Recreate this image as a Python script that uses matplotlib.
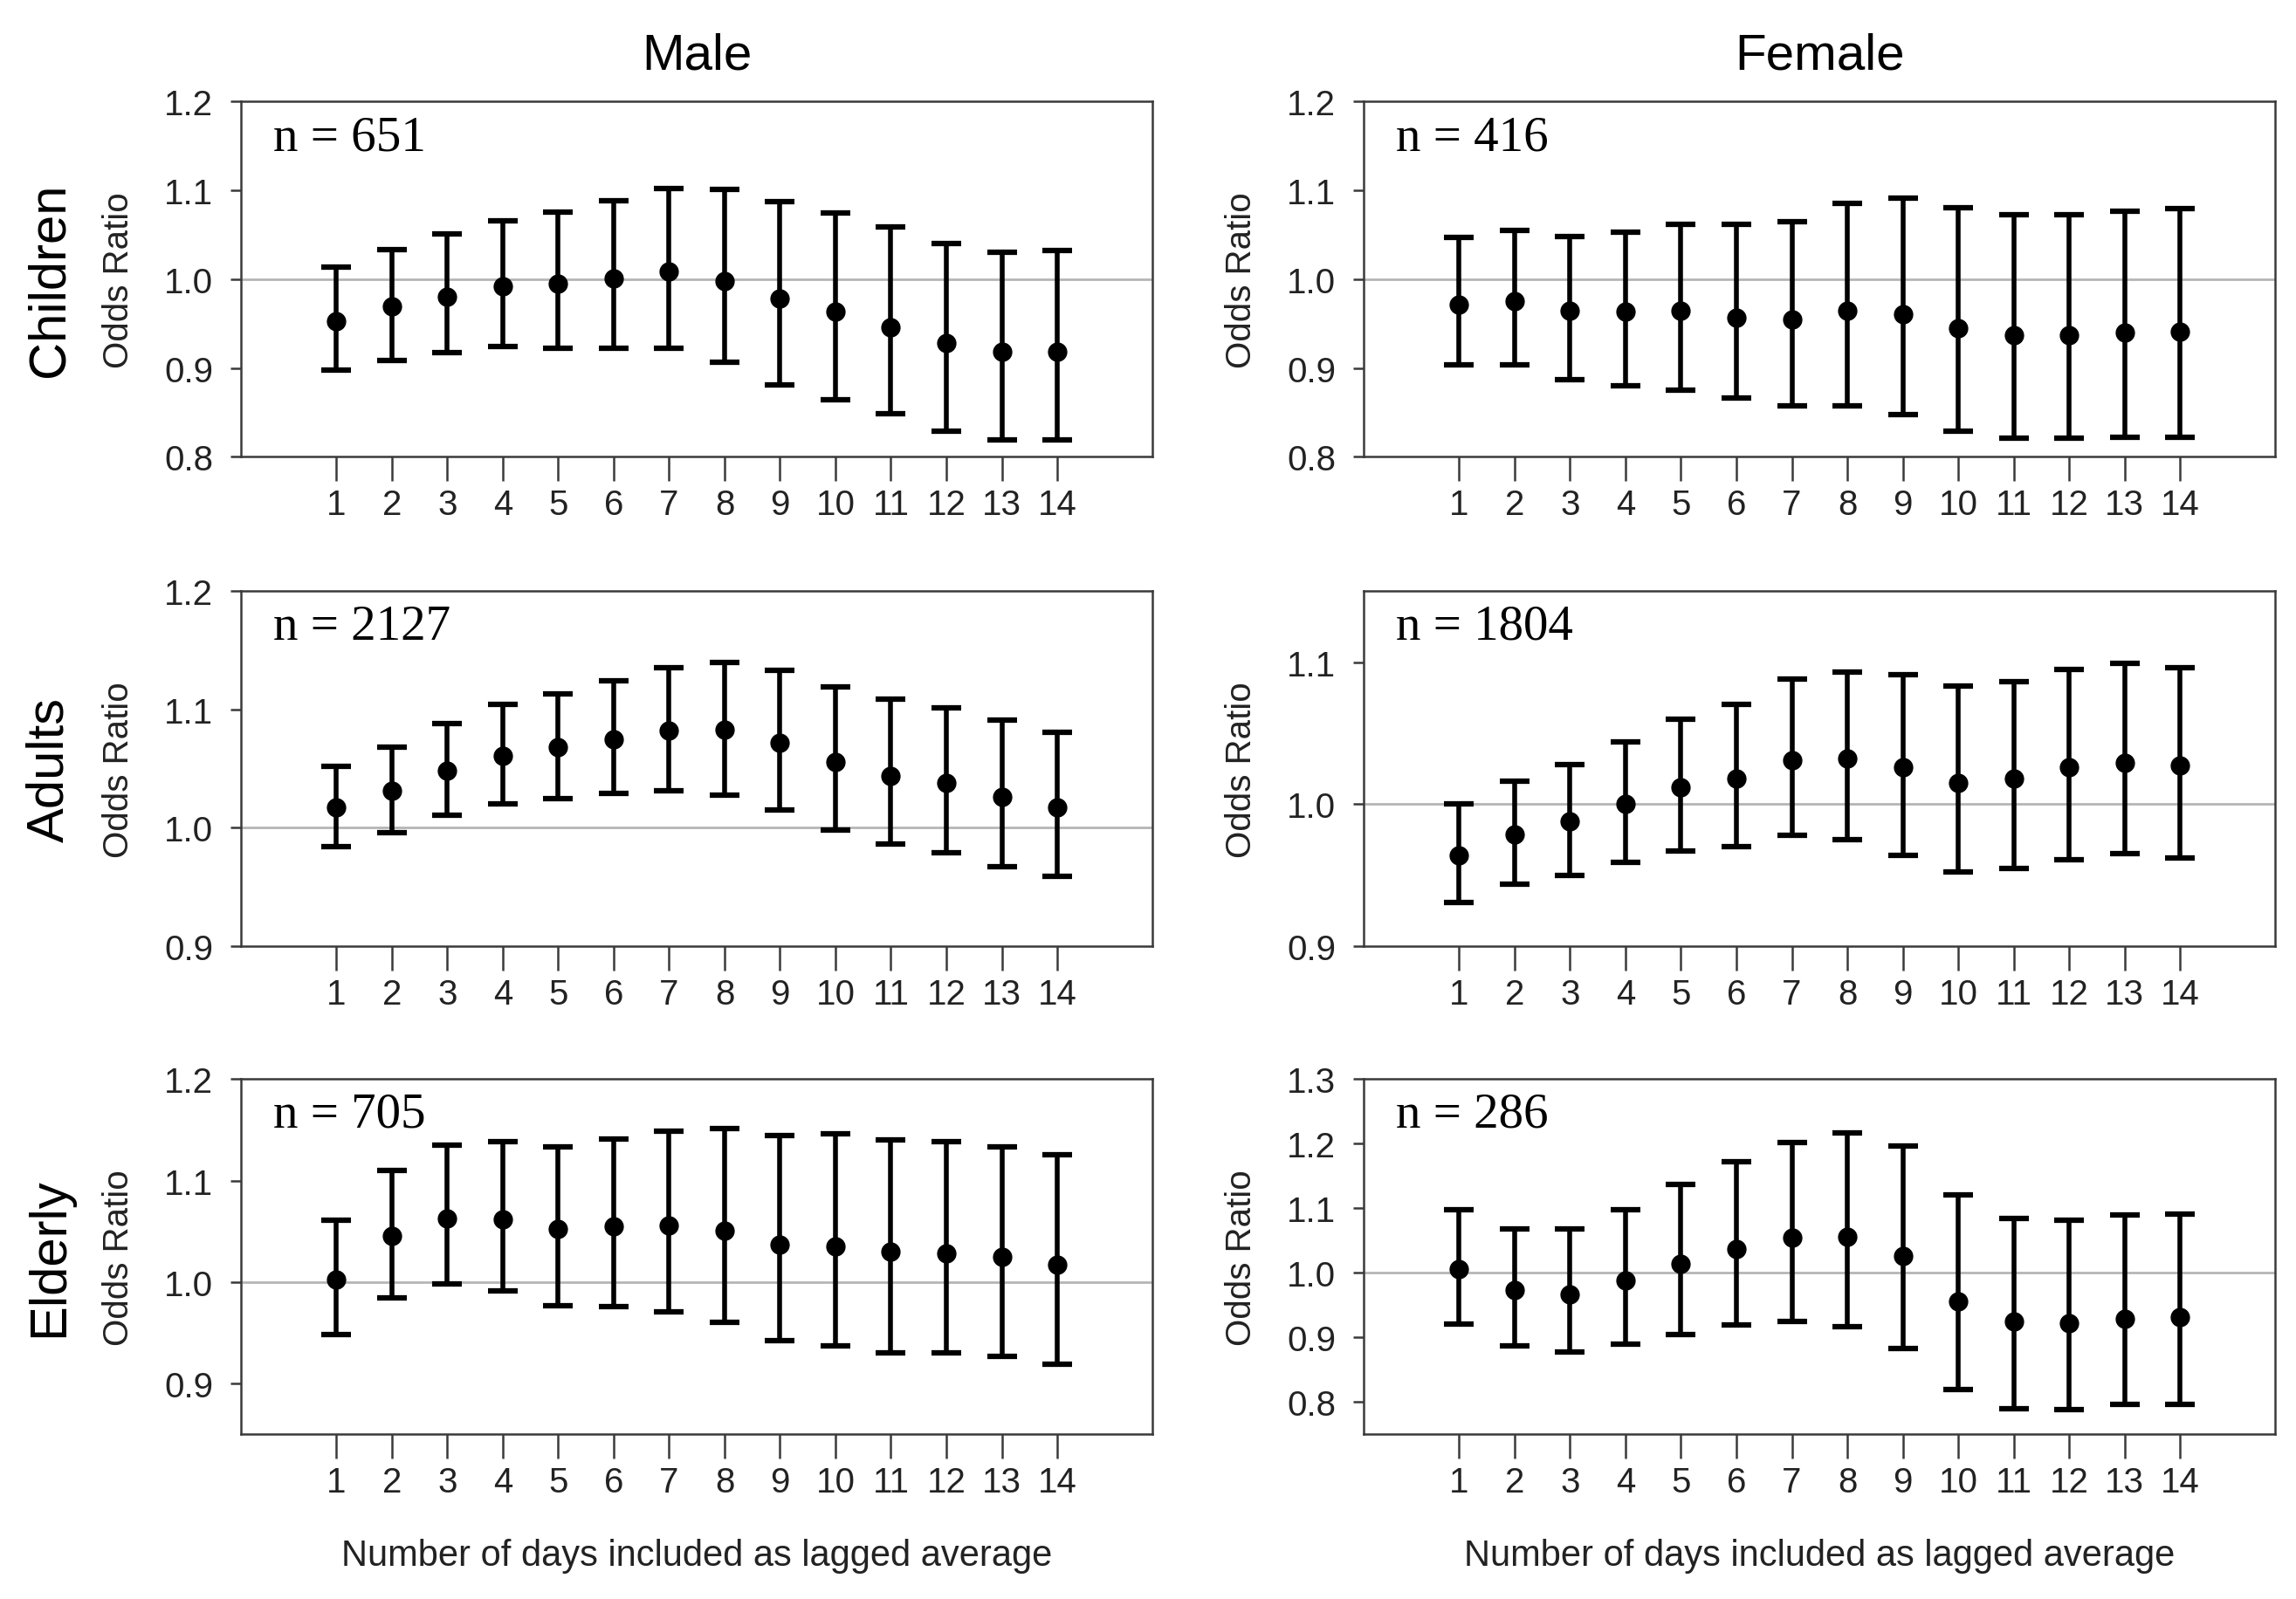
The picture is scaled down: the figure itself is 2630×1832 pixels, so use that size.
import matplotlib
matplotlib.use("Agg")
import matplotlib.pyplot as plt
import numpy as np

plt.rcParams["font.family"] = ["Liberation Sans", "DejaVu Sans"]

days = np.arange(1, 15)
col_titles = ["Male", "Female"]
row_labels = ["Children", "Adults", "Elderly"]

# odds ratio, lower and upper CI
male_children_or = [0.953, 0.969, 0.980, 0.992, 0.995, 1.001, 1.009, 0.998, 0.978, 0.963, 0.946, 0.928, 0.918, 0.918]
male_children_lo = [0.898, 0.908, 0.917, 0.924, 0.922, 0.922, 0.922, 0.906, 0.881, 0.864, 0.848, 0.829, 0.819, 0.819]
male_children_hi = [1.014, 1.033, 1.051, 1.066, 1.075, 1.088, 1.102, 1.101, 1.087, 1.074, 1.059, 1.040, 1.030, 1.032]

female_children_or = [0.971, 0.975, 0.964, 0.963, 0.964, 0.957, 0.955, 0.964, 0.960, 0.945, 0.937, 0.937, 0.940, 0.941]
female_children_lo = [0.903, 0.903, 0.887, 0.880, 0.875, 0.866, 0.857, 0.857, 0.847, 0.829, 0.821, 0.821, 0.822, 0.822]
female_children_hi = [1.047, 1.055, 1.048, 1.053, 1.062, 1.062, 1.065, 1.085, 1.091, 1.080, 1.073, 1.073, 1.076, 1.079]

male_adults_or = [1.017, 1.031, 1.048, 1.061, 1.068, 1.075, 1.082, 1.083, 1.072, 1.056, 1.044, 1.038, 1.026, 1.017]
male_adults_lo = [0.984, 0.996, 1.011, 1.020, 1.025, 1.029, 1.031, 1.028, 1.015, 0.998, 0.986, 0.979, 0.967, 0.959]
male_adults_hi = [1.052, 1.068, 1.088, 1.104, 1.113, 1.124, 1.135, 1.140, 1.133, 1.119, 1.109, 1.101, 1.091, 1.081]

female_adults_or = [0.964, 0.979, 0.988, 1.000, 1.012, 1.018, 1.031, 1.032, 1.026, 1.015, 1.018, 1.026, 1.029, 1.027]
female_adults_lo = [0.931, 0.944, 0.950, 0.959, 0.967, 0.970, 0.978, 0.975, 0.964, 0.952, 0.955, 0.961, 0.965, 0.962]
female_adults_hi = [1.000, 1.016, 1.028, 1.044, 1.060, 1.070, 1.088, 1.093, 1.091, 1.083, 1.086, 1.095, 1.099, 1.096]

male_elderly_or = [1.002, 1.045, 1.063, 1.062, 1.052, 1.055, 1.056, 1.051, 1.037, 1.035, 1.030, 1.028, 1.025, 1.017]
male_elderly_lo = [0.948, 0.984, 0.998, 0.991, 0.977, 0.976, 0.971, 0.960, 0.942, 0.937, 0.930, 0.930, 0.927, 0.919]
male_elderly_hi = [1.061, 1.110, 1.135, 1.138, 1.133, 1.141, 1.149, 1.151, 1.144, 1.146, 1.140, 1.138, 1.133, 1.125]

female_elderly_or = [1.006, 0.973, 0.967, 0.988, 1.014, 1.037, 1.054, 1.056, 1.026, 0.956, 0.924, 0.922, 0.929, 0.931]
female_elderly_lo = [0.921, 0.887, 0.877, 0.890, 0.905, 0.919, 0.925, 0.916, 0.883, 0.819, 0.790, 0.788, 0.796, 0.796]
female_elderly_hi = [1.098, 1.068, 1.068, 1.098, 1.137, 1.172, 1.202, 1.217, 1.196, 1.121, 1.084, 1.082, 1.089, 1.091]

n_labels = [["n = 651", "n = 416"], ["n = 2127", "n = 1804"], ["n = 705", "n = 286"]]

panels = [
    [(male_children_or, male_children_lo, male_children_hi), (female_children_or, female_children_lo, female_children_hi)],
    [(male_adults_or, male_adults_lo, male_adults_hi), (female_adults_or, female_adults_lo, female_adults_hi)],
    [(male_elderly_or, male_elderly_lo, male_elderly_hi), (female_elderly_or, female_elderly_lo, female_elderly_hi)],
]

ylims = [[(0.8, 1.2), (0.8, 1.2)], [(0.9, 1.2), (0.9, 1.15)], [(0.85, 1.2), (0.75, 1.3)]]
yticks = [[[0.8, 0.9, 1.0, 1.1, 1.2], [0.8, 0.9, 1.0, 1.1, 1.2]],
          [[0.9, 1.0, 1.1, 1.2], [0.9, 1.0, 1.1]],
          [[0.9, 1.0, 1.1, 1.2], [0.8, 0.9, 1.0, 1.1, 1.2, 1.3]]]

fig = plt.figure(figsize=(26.3, 18.33), dpi=100)

lefts = [0.105, 0.594]
width = 0.397
bottoms = [0.714, 0.408, 0.103]
height = 0.222
frame = "#3a3a3a"
txt = "#222222"

for r in range(3):
    for c in range(2):
        ax = fig.add_axes([lefts[c], bottoms[r], width, height])
        orv, lo, hi = [np.array(a) for a in panels[r][c]]
        ax.axhline(1.0, color="#b5b5b5", lw=2, zorder=1)
        ax.errorbar(days, orv, yerr=[orv - lo, hi - orv], fmt="o", color="black",
                    ms=15, elinewidth=4, capsize=12, capthick=4.5, zorder=3)
        ax.set_xlim(-0.72, 15.72)
        ax.set_ylim(*ylims[r][c])
        ax.set_xticks(days)
        ax.set_yticks(yticks[r][c])
        ax.set_yticklabels(["%.1f" % v for v in yticks[r][c]])
        for s in ax.spines.values():
            s.set_color(frame)
            s.set_linewidth(1.8)
        ax.tick_params(axis="x", direction="out", length=20, width=1.8, color=frame,
                       labelsize=29, labelcolor=txt, pad=6)
        ax.tick_params(axis="y", direction="out", length=9, width=1.8, color=frame,
                       labelsize=29, labelcolor=txt, pad=14)
        ax.set_ylabel("Odds Ratio", fontsize=29, color=txt, labelpad=24)
        ax.text(0.035, 0.9, n_labels[r][c], transform=ax.transAxes, ha="left", va="center",
                fontsize=41, family=["Liberation Serif", "DejaVu Serif"], color="black")
        if r == 0:
            ax.set_title(col_titles[c], fontsize=42, color="black", pad=27)
        if r == 2:
            ax.set_xlabel("Number of days included as lagged average", fontsize=30,
                          color=txt, labelpad=32)
        if c == 0:
            ax.text(-0.21, 0.5, row_labels[r], transform=ax.transAxes, rotation=90,
                    ha="center", va="center", fontsize=43, color="black")

fig.savefig("out.png", dpi=100)
